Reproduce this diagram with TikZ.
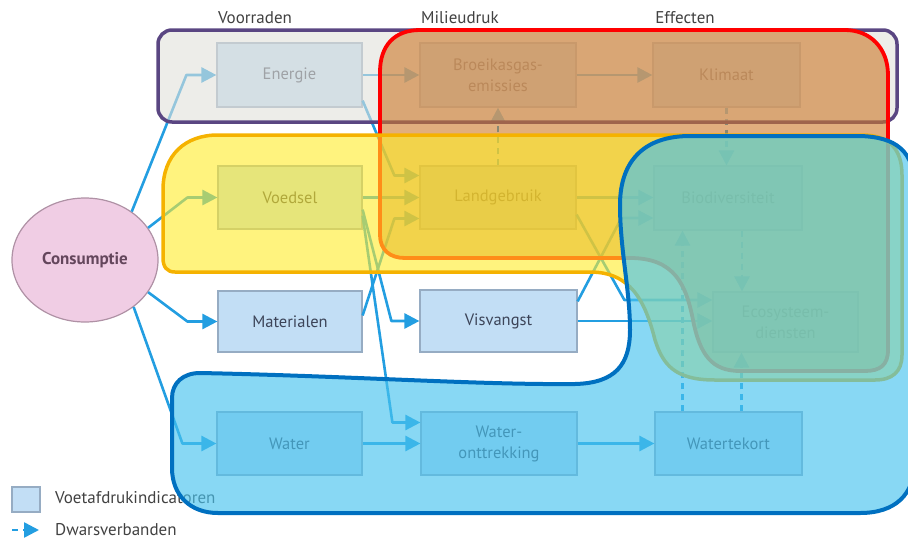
\documentclass[tikz,border=0pt]{standalone}
\usepackage{fontspec}
\setmainfont{PT Sans}
\usetikzlibrary{arrows.meta,calc,shapes.geometric}
\definecolor{boxfill}{RGB}{194,222,245}
\definecolor{boxline}{RGB}{150,172,195}
\definecolor{boxtext}{RGB}{60,68,88}
\definecolor{arrowblue}{RGB}{35,158,225}
\definecolor{pinkfill}{RGB}{240,205,228}
\definecolor{pinkline}{RGB}{175,145,165}
\definecolor{pinktext}{RGB}{100,70,92}
\definecolor{headgrey}{RGB}{65,65,65}
\definecolor{purpleline}{RGB}{90,70,130}
\definecolor{greyfill}{RGB}{225,225,218}
\definecolor{orangefill}{RGB}{205,120,40}
\definecolor{yellowline}{RGB}{245,178,0}
\definecolor{yellowfill}{RGB}{255,235,40}
\definecolor{blueline}{RGB}{0,112,192}
\definecolor{bluefill}{RGB}{72,195,238}
\tikzset{
  box/.style={draw=boxline, line width=1.2pt, fill=boxfill, text=boxtext,
    font=\fontsize{16.5}{21}\selectfont, align=center, inner sep=0pt},
  arr/.style={draw=arrowblue, line width=2.6pt, line join=round,
    -{Triangle[length=15pt,width=15pt]}},
  dasharr/.style={arr, dash pattern=on 6pt off 5pt},
  head/.style={text=headgrey, font=\fontsize{17}{20}\selectfont},
  legtext/.style={text=headgrey, font=\fontsize{17}{20}\selectfont, anchor=west, inner sep=0pt},
  purplereg/.style={draw=purpleline, line width=3.5pt, fill=greyfill, fill opacity=0.6},
  redreg/.style={draw=red, line width=3.8pt, fill=orangefill, fill opacity=0.6},
  yellowreg/.style={draw=yellowline, line width=3.5pt, fill=yellowfill, fill opacity=0.6},
  bluereg/.style={draw=blueline, line width=4pt, fill=bluefill, fill opacity=0.65},
}
\begin{document}
\begin{tikzpicture}[x=1pt,y=-1pt]
\useasboundingbox (0,0) rectangle (908,539);
\begin{scope}
\clip (0,0) rectangle (908,539);
% headers
\node[head] (hvoor) at (255,18) {Voorraden};
\node[head] (hmil) at (460,18) {Milieudruk};
\node[head] (heff) at (685,18) {Effecten};
% consumptie
\node[ellipse, draw=pinkline, line width=1.2pt, fill=pinkfill, minimum width=146pt, minimum height=124pt,
  text=pinktext, font=\bfseries\fontsize{17}{20}\selectfont, inner sep=0pt] (cons) at (85,260) {Consumptie};
% boxes
\node[box, minimum width=145pt, minimum height=64pt] (energie) at (289.5,75) {Energie};
\node[box, minimum width=156pt, minimum height=64pt] (broeikas) at (498,75) {Broeikasgas-\\emissies};
\node[box, minimum width=147pt, minimum height=64pt] (klimaat) at (726.5,75) {Klimaat};
\node[box, minimum width=144pt, minimum height=63pt] (voedsel) at (290,197.5) {Voedsel};
\node[box, minimum width=156pt, minimum height=63pt] (landgebruik) at (498,197.5) {Landgebruik};
\node[box, minimum width=148pt, minimum height=64pt] (biodiv) at (728,198) {Biodiversiteit};
\node[box, minimum width=144pt, minimum height=61pt] (materialen) at (290,321.5) {Materialen};
\node[box, minimum width=157pt, minimum height=62pt] (visvangst) at (498.5,321) {Visvangst};
\node[box, minimum width=145pt, minimum height=60pt] (ecosys) at (785.5,322) {Ecosysteem-\\diensten};
\node[box, minimum width=145pt, minimum height=63pt] (water) at (289.5,443.5) {Water};
\node[box, minimum width=156pt, minimum height=63pt] (wateront) at (499,443.5) {Water-\\onttrekking};
\node[box, minimum width=147pt, minimum height=63pt] (watertekort) at (728.5,443.5) {Watertekort};
% connectors from consumptie
\draw[arr] (cons.46) -- ([xshift=-30pt]energie.west) -- (energie.west);
\draw[arr] (cons.27) -- ([xshift=-30pt]voedsel.west) -- (voedsel.west);
\draw[arr] (cons.-27) -- ([xshift=-30pt]materialen.west) -- (materialen.west);
\draw[arr] (cons.-44) -- ([xshift=-34pt]water.west) -- (water.west);
% pressures
\draw[arr] (energie.east) -- (broeikas.west);
\draw[arr] ([yshift=7pt]energie.south east) -- ([xshift=-25pt,yshift=22pt]landgebruik.west) -- ([yshift=22pt]landgebruik.west);
\draw[arr] (voedsel.east) -- (landgebruik.west);
\draw[arr] ([yshift=6pt]materialen.east) -- ([xshift=-25pt,yshift=-21pt]landgebruik.west) -- ([yshift=-21pt]landgebruik.west);
\draw[arr] ([yshift=20pt]voedsel.south east) -- ([xshift=-28pt]visvangst.west) -- (visvangst.west);
\draw[arr] ([yshift=14pt]voedsel.south east) -- ([xshift=-28pt,yshift=21pt]wateront.west) -- ([yshift=21pt]wateront.west);
\draw[arr] (water.east) -- (wateront.west);
% effects
\draw[arr] (broeikas.east) -- (klimaat.west);
\draw[arr] (landgebruik.east) -- (landgebruik.east -| biodiv.west);
\draw[arr] ([yshift=15pt]landgebruik.south east) -- ([xshift=-88pt,yshift=22pt]ecosys.west) -- ([yshift=22pt]ecosys.west);
\draw[arr] ([yshift=-12pt]visvangst.north east) -- ([xshift=-32pt,yshift=-20pt]biodiv.west) -- ([yshift=-20pt]biodiv.west);
\draw[arr] (visvangst.east) -- (visvangst.east -| ecosys.west);
\draw[arr] (wateront.east) -- (watertekort.west);
% cross links
\draw[dasharr] (landgebruik.north) -- (broeikas.south);
\draw[dasharr] (klimaat.south) -- (klimaat.south |- biodiv.north);
\draw[dasharr] ([xshift=14pt]biodiv.south) -- ([xshift=14pt]biodiv.south |- ecosys.north);
\draw[dasharr] ([xshift=-46pt]watertekort.north) -- ([xshift=-46pt]watertekort.north |- biodiv.south);
\draw[dasharr] ([xshift=13pt]watertekort.north) -- ([xshift=13pt]watertekort.north |- ecosys.south);
% legend
\node[draw=boxline, line width=1.2pt, fill=boxfill, minimum width=28pt, minimum height=25pt, inner sep=0pt] (legbox) at (26,499.5) {};
\node[legtext] (legboxtext) at (55,498) {Voetafdrukindicatoren};
\coordinate (legstart) at (12,530);
\coordinate (legend) at (39,530);
\draw[dasharr] (legstart) -- (legend);
\node[legtext] (legarrtext) at (55,530) {Dwarsverbanden};
% regions
\draw[purplereg, rounded corners=14pt] (158,30) rectangle (897,122);
\draw[redreg] (420,30) -- (845,30) .. controls (870,30) and (888,48) .. (888,75) -- (888,350)
  .. controls (888,365) and (880,371) .. (865,371) -- (740,371)
  .. controls (712,371) and (700,355) .. (693,320)
  .. controls (686,285) and (675,258) .. (630,258) -- (405,258)
  .. controls (390,258) and (380,250) .. (380,235) -- (380,72)
  .. controls (380,45) and (395,30) .. (420,30) -- cycle;
\draw[yellowreg] (218,135) -- (862,135) .. controls (890,135) and (902,150) .. (902,175) -- (902,355)
  .. controls (902,372) and (892,380) .. (875,380) -- (715,380)
  .. controls (675,380) and (663,365) .. (655,340)
  .. controls (645,300) and (630,272) .. (590,272) -- (175,272)
  .. controls (167,272) and (163,267) .. (163,258) -- (163,190)
  .. controls (163,155) and (185,135) .. (218,135) -- cycle;
\draw[bluereg] (200,373) .. controls (350,376) and (480,385) .. (575,384)
  .. controls (615,383) and (630,365) .. (630,330)
  .. controls (630,290) and (620,250) .. (620,205)
  .. controls (620,160) and (645,136) .. (690,136) -- (860,136)
  .. controls (895,137) and (915,150) .. (915,190) -- (915,460)
  .. controls (915,495) and (895,513) .. (860,513) -- (218,513)
  .. controls (190,513) and (172,495) .. (172,468) -- (172,398)
  .. controls (172,383) and (183,373) .. (200,373) -- cycle;
\end{scope}
\end{tikzpicture}
\end{document}
